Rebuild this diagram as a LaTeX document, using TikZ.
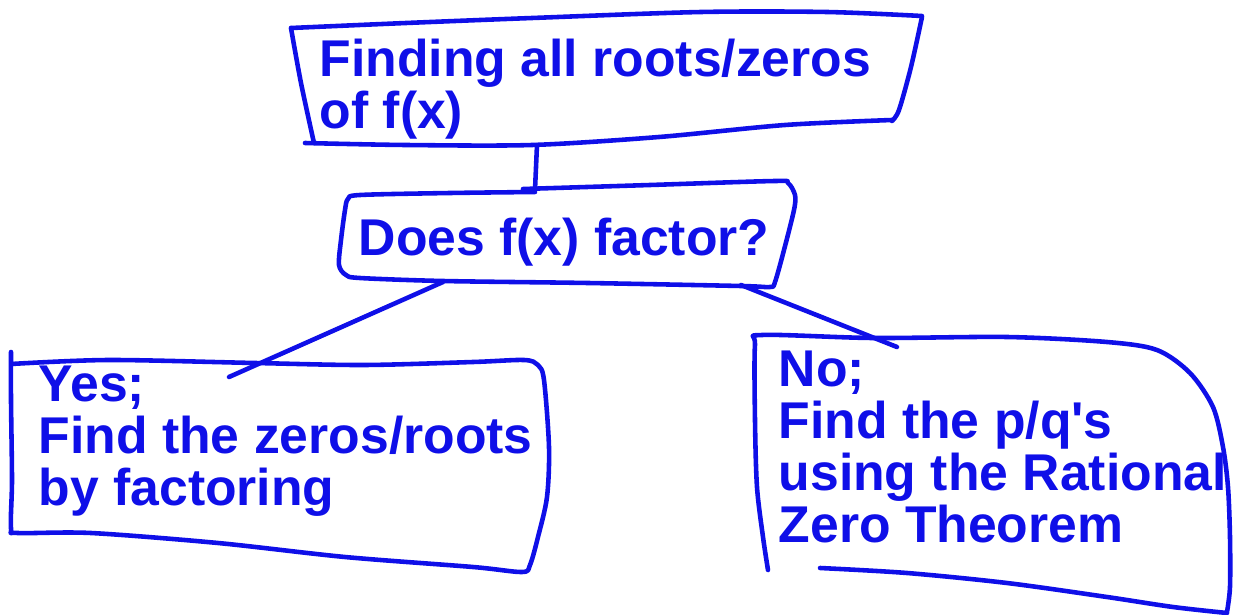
\documentclass[tikz,border=0pt]{standalone}
\usepackage{fontspec}
\setmainfont{Liberation Sans}
\definecolor{ink}{RGB}{15,15,232}
\tikzset{
  pen/.style={draw=ink, line width=1.3pt, line cap=round, line join=round},
  txt/.style={text=ink, font=\fontsize{14.7}{14.7}\selectfont\bfseries, align=left, inner sep=0pt, anchor=base west},
}

\begin{document}
\begin{tikzpicture}[x=0.01cm,y=-0.01cm]
      \useasboundingbox (0,0) rectangle (1235,615);
      % texts (placed at the baseline of their last line)
      \node[txt] (goal) at (319,128) {Finding all roots/zeros\\of f(x)};
      \node[txt] (ask) at (358,255) {Does f(x) factor?};
      \node[txt] (yes) at (38,505) {Yes;\\Find the zeros/roots\\by factoring};
      \node[txt] (no) at (778,542) {No;\\Find the p/q\textquotesingle s\\using the Rational\\Zero Theorem};
      % top box
      \draw[pen] plot[smooth,tension=0.5] coordinates {(291,28) (301,83) (314,143)};
      \draw[pen] plot[smooth,tension=0.5] coordinates {(305,143) (406,145) (532,145) (659,137) (785,125) (892,120)};
      \draw[pen] plot[smooth,tension=0.5] coordinates {(892,121) (899,110) (911,67) (922,17)};
      \draw[pen] plot[smooth,tension=0.5] coordinates {(922,16) (827,12) (701,12) (532,18) (406,23) (291,28)};
      % middle box
      \draw[pen] plot[smooth,tension=0.5] coordinates {(535,192) (450,193) (360,195) (348,199) (345,210) (341,240) (339,265) (346,275) (360,278) (443,281) (588,283) (741,286) (770,287) (775,282) (784,250) (794,210) (795,195) (788,183) (775,181) (650,185) (523,189)};
      % left box
      \draw[pen] plot[smooth,tension=0.5] coordinates {(11,352) (11,400) (12,480) (11,528) (18,533) (91,533) (218,543) (345,557) (473,567) (522,572) (530,565) (538,537) (547,497) (549,447) (544,380) (538,365) (524,360) (473,362) (364,365) (255,363) (109,360) (11,364)};
      % right box
      \draw[pen] plot[smooth,tension=0.5] coordinates {(768,570) (763,537) (757,487) (755,420) (755,345) (762,335) (873,338) (1007,337) (1107,342) (1157,350) (1190,373) (1213,407) (1223,447) (1228,487) (1230,537) (1230,587) (1227,612)};
      \draw[pen] plot[smooth,tension=0.5] coordinates {(820,568) (907,573) (1007,583) (1107,597) (1173,607) (1227,613)};
      % connectors
      \coordinate (goalS) at (537,145);
      \coordinate (askN) at (535,190);
      \coordinate (askSW) at (443,282);
      \coordinate (askSE) at (741,285);
      \coordinate (yesN) at (229,377);
      \coordinate (noN) at (897,347);
      \draw[pen] (goalS) -- (askN);
      \draw[pen] (askSW) -- (yesN);
      \draw[pen] (askSE) -- (noN);
    \end{tikzpicture}
\end{document}
